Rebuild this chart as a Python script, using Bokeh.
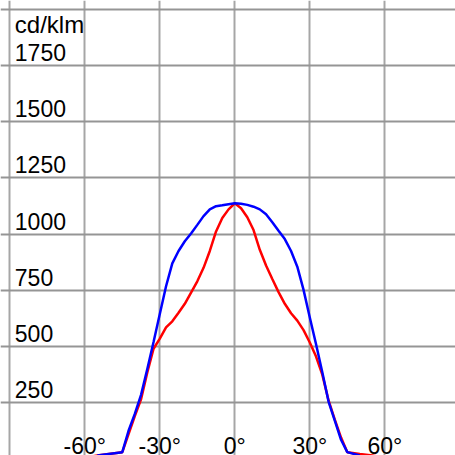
from bokeh.plotting import figure
from bokeh.models import Range1d, FixedTicker, ColumnDataSource
from bokeh.core.properties import value
from bokeh.embed import file_html
from bokeh.resources import INLINE

angles = [-60, -55, -45, -42.5, -40, -37.5, -35, -32.5, -30, -27.5, -25, -22.5, -20,
          -17.5, -15, -12.5, -10, -7.5, -5, -2.5, 0, 2.5, 5, 7.5, 10, 12.5, 15, 17.5,
          20, 22.5, 25, 27.5, 30, 32.5, 35, 37.5, 40, 42.5, 45, 50, 55, 60]

red = [5, 15, 30, 110, 190, 265, 385, 490, 535, 585, 612, 650, 690,
       740, 790, 850, 925, 1012, 1072, 1110, 1137, 1115, 1075, 1018, 930, 860, 800, 742,
       690, 648, 615, 573, 518, 455, 375, 260, 175, 95, 30, 22, 15, 5]

blue_angles = [-55, -45, -42.5, -40, -37.5, -35, -32.5, -30, -27.5, -25, -22.5, -20,
               -17.5, -15, -12.5, -10, -7.5, -5, -2.5, 0, 2.5, 5, 7.5, 10, 12.5, 15, 17.5,
               20, 22.5, 25, 27.5, 30, 32.5, 35, 37.5, 40, 42.5, 45, 50]
blue = [15, 30, 125, 200, 285, 400, 520, 645, 768, 870, 925, 968,
        1003, 1041, 1080, 1110, 1124, 1128, 1133, 1137, 1135, 1130, 1122, 1110, 1088, 1053, 1015,
        978, 925, 855, 752, 629, 510, 385, 255, 170, 85, 30, 15]

x_ticks = [-90, -60, -30, 0, 30, 60, 90]
x_tick_labels = ["-60°", "-30°", "0°", "30°", "60°"]
x_label_pos = [-60, -30, 0, 30, 60]
y_ticks = [0, 250, 500, 750, 1000, 1250, 1500, 1750, 2000]
y_label_vals = [250, 500, 750, 1000, 1250, 1500, 1750]
y_tick_labels = ["250", "500", "750", "1000", "1250", "1500", "1750"]
unit_label = "cd/klm"

W = 455
H = 455
px_per_deg = 2.5
px_per_unit = 0.2248
x0 = -90 - 9.3 / px_per_deg
y1 = 2000 + 8.8 / px_per_unit

p = figure(width=W, height=H, output_backend="svg", toolbar_location=None,
           x_range=Range1d(x0, x0 + W / px_per_deg),
           y_range=Range1d(y1 - H / px_per_unit, y1),
           min_border=0)
p.axis.visible = False
p.outline_line_color = None
p.background_fill_color = "white"
p.border_fill_color = "white"

p.xgrid.ticker = FixedTicker(ticks=x_ticks)
p.ygrid.ticker = FixedTicker(ticks=y_ticks)
p.xgrid.grid_line_color = "#a6a6a6"
p.ygrid.grid_line_color = "#959595"
p.xgrid.grid_line_width = 2
p.ygrid.grid_line_width = 2

p.line(angles, red, line_color="#ff0000", line_width=2.5)
p.line(blue_angles, blue, line_color="#0000ff", line_width=2.5)

font = value("Liberation Sans")
lab_x = -90 + 5 / px_per_deg
ysrc = ColumnDataSource(dict(x=[lab_x] * len(y_label_vals), y=y_label_vals, t=y_tick_labels))
p.text(x="x", y="y", text="t", source=ysrc, text_font=font, text_font_size="23px",
       text_color="black", text_align="left", text_baseline="alphabetic", y_offset=-13)
p.text(x=[lab_x], y=[2000], text=[unit_label], text_font=font, text_font_size="24px",
       text_color="black", text_align="left", text_baseline="alphabetic", y_offset=15)
xsrc = ColumnDataSource(dict(x=x_label_pos, y=[0] * len(x_label_pos), t=x_tick_labels))
p.text(x="x", y="y", text="t", source=xsrc, text_font=font, text_font_size="23px",
       text_color="black", text_align="center", text_baseline="alphabetic", y_offset=-13)

open("out.html", "w").write(file_html(p, INLINE))
